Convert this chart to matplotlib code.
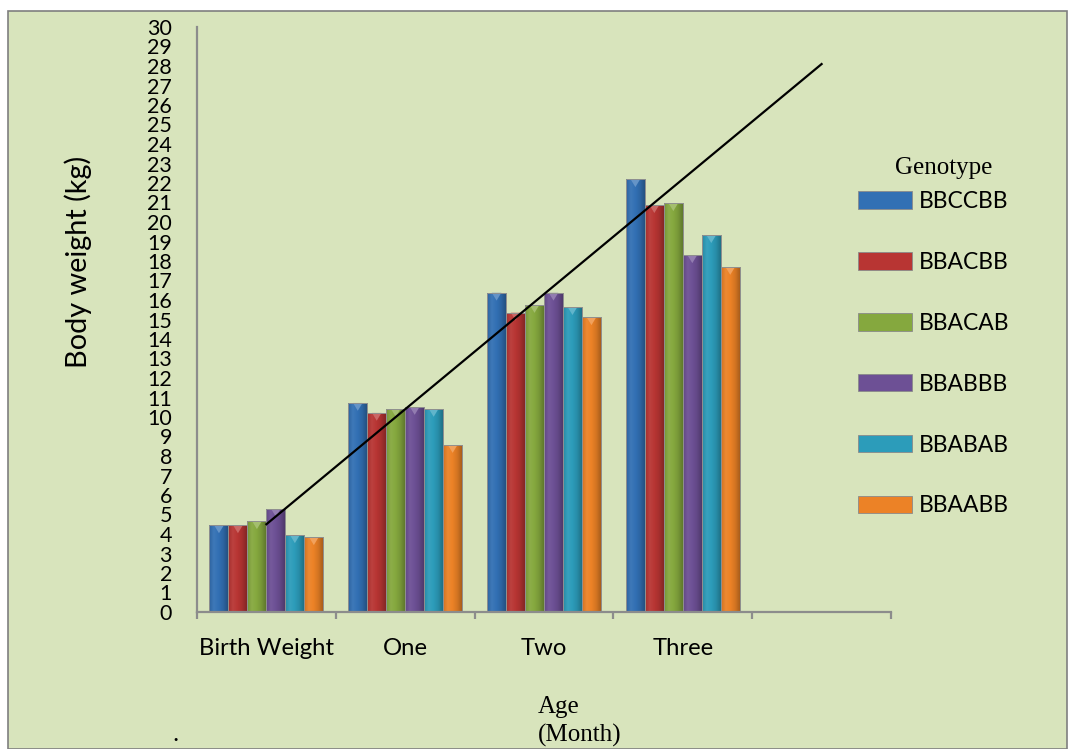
import matplotlib
matplotlib.use("Agg")
import matplotlib.pyplot as plt
import matplotlib.patches as mpatches
import matplotlib.colors as mcolors
import numpy as np

# ---- data ----
categories = ["Birth Weight", "One", "Two", "Three", ""]
genotypes = ["BBCCBB", "BBACBB", "BBACAB", "BBABBB", "BBABAB", "BBAABB"]
BBCCBB = [4.44, 10.72, 16.37, 22.19]
BBACBB = [4.44, 10.21, 15.35, 20.86]
BBACAB = [4.65, 10.41, 15.74, 20.96]
BBABBB = [5.28, 10.51, 16.37, 18.29]
BBABAB = [3.93, 10.41, 15.63, 19.32]
BBAABB = [3.83, 8.56, 15.11, 17.69]
series = [BBCCBB, BBACBB, BBACAB, BBABBB, BBABAB, BBAABB]
trend_x = [0, 4]
trend_y = [4.5, 28.1]
y_ticks = list(range(0, 31))

colors = ["#3270B4", "#B83533", "#85A83E", "#6D5095", "#2C9CBA", "#EC8226"]
bg = "#D8E4BC"

W, H = 1068, 749
fig = plt.figure(figsize=(W / 100, H / 100), dpi=100)
fig.patch.set_facecolor("white")
frame = mpatches.Rectangle((8 / W, 0), (W - 9) / W, (H - 11) / H,
                           transform=fig.transFigure, facecolor=bg,
                           edgecolor="#7F7F7F", linewidth=1.2, zorder=-10)
fig.patches.append(frame)

ax = fig.add_axes([197 / W, 1 - 612 / H, (891 - 197) / W, (612 - 27) / H])
ax.set_facecolor("none")
ax.set_zorder(5)


def shade(c, f):
    r = np.array(mcolors.to_rgb(c))
    if f >= 1:
        return tuple(r + (1 - r) * (f - 1))
    return tuple(r * f)


n = len(series)
bw = 0.1367
x = np.arange(len(series[0]))
handles = []
for i, (vals, name, c) in enumerate(zip(series, genotypes, colors)):
    off = (i - (n - 1) / 2) * bw
    bars = ax.bar(x + off, vals, width=bw, color=c, edgecolor="#8a8a8a", linewidth=0.6,
                  label=name, zorder=2)
    handles.append(bars)
    cmap = mcolors.LinearSegmentedColormap.from_list(
        "g%d" % i, [shade(c, 0.88), shade(c, 1.06), shade(c, 1.0), shade(c, 0.9), shade(c, 0.72)])
    grad = np.linspace(0, 1, 64).reshape(1, -1)
    for rect in bars:
        x0, w, h = rect.get_x(), rect.get_width(), rect.get_height()
        im = ax.imshow(grad, cmap=cmap, aspect="auto", extent=(x0, x0 + w, 0, h),
                       zorder=2.1, interpolation="bilinear")
        im.set_clip_path(rect)
        cap = mpatches.Polygon([[x0 + w * 0.25, h], [x0 + w * 0.75, h], [x0 + w * 0.5, h - 0.4]],
                               closed=True, facecolor=shade(c, 1.25), edgecolor="none", zorder=2.2)
        ax.add_patch(cap)
        edge = mpatches.Rectangle((x0, 0), w, h, facecolor="none", edgecolor="#8f8f8f",
                                  linewidth=0.7, zorder=2.3)
        ax.add_patch(edge)

ax.plot(trend_x, trend_y, color="black", linewidth=1.6, zorder=3)

ax.set_xlim(-0.5, len(categories) - 0.5)
ax.set_ylim(0, 30)

for s in ["top", "right"]:
    ax.spines[s].set_visible(False)
for s in ["left", "bottom"]:
    ax.spines[s].set_color("#8C8C8C")
    ax.spines[s].set_linewidth(1.6)

font = "Lato"
ax.set_yticks(y_ticks)
ax.set_yticklabels([str(v) for v in y_ticks], fontfamily=font, fontsize=15.5)
ax.tick_params(axis="y", length=0, pad=18)

ax.set_xticks(np.arange(len(categories) + 1) - 0.5)
ax.set_xticklabels([])
ax.tick_params(axis="x", which="major", length=5, width=1.6, color="#8C8C8C", direction="out")
ax.set_xticks(np.arange(len(categories)), minor=True)
ax.set_xticklabels(categories, minor=True, fontfamily=font, fontsize=17.2)
ax.tick_params(axis="x", which="minor", length=0, pad=19)

fig.text(78 / W, 1 - 262 / H, "Body weight (kg)", rotation=90, ha="center", va="center",
         fontfamily=font, fontsize=20.8)

fig.text(538 / W, 1 - 707 / H, "Age", ha="left", va="center", fontfamily="Liberation Serif", fontsize=18)
fig.text(538 / W, 1 - 735 / H, "(Month)", ha="left", va="center", fontfamily="Liberation Serif", fontsize=18)
fig.text(175 / W, 1 - 735 / H, ".", ha="center", va="center", fontfamily="Liberation Serif", fontsize=18)

fig.text(944 / W, 1 - 168 / H, "Genotype", ha="center", va="center",
         fontfamily="Liberation Serif", fontsize=18)

leg = ax.legend(handles=handles, labels=genotypes, loc="upper left",
                bbox_to_anchor=(842 / W, 1 - 175 / H),
                bbox_transform=fig.transFigure, frameon=False,
                prop={"family": font, "size": 16.5},
                handlelength=2.35, handleheight=0.8, handletextpad=0.3,
                labelspacing=1.74, borderpad=0.2)

fig.savefig("out.png", dpi=100, facecolor=fig.get_facecolor())
